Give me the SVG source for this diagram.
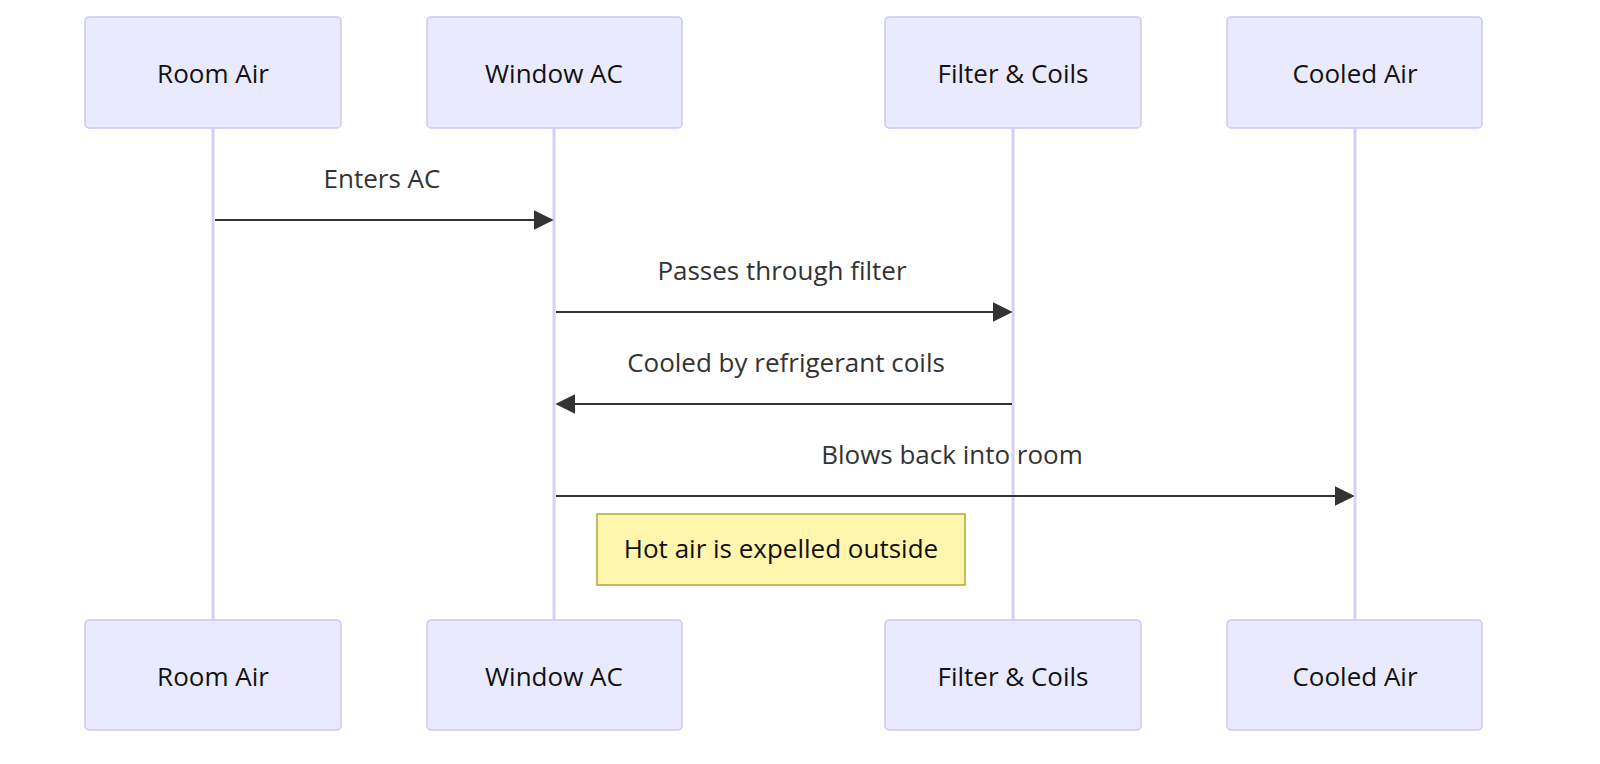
<svg xmlns="http://www.w3.org/2000/svg" width="1600" height="764" viewBox="0 0 1600 764">
<defs>
<style>
.actor{fill:#eaeaff;stroke:#d0c8f2;stroke-width:1.5}
.at{font-family:"Open Sans",sans-serif;font-size:26px;fill:#111;text-anchor:middle;dominant-baseline:central}
.life{stroke:#d8d0f2;stroke-width:3}
.msg{stroke:#333;stroke-width:2.2;fill:none;marker-end:url(#ah)}
.mt{font-family:"Open Sans",sans-serif;font-size:26px;fill:#333;text-anchor:middle}
</style>
<marker id="ah" viewBox="0 0 12 12" refX="11" refY="6" markerWidth="9" markerHeight="9" markerUnits="userSpaceOnUse" orient="auto"><path d="M0,0L12,6L0,12z" fill="#333"/></marker>
<marker id="ah2" viewBox="0 0 12 12" refX="11" refY="6" markerWidth="20" markerHeight="20" markerUnits="userSpaceOnUse" orient="auto"><path d="M0,0L12,6L0,12z" fill="#333"/></marker>
</defs>
<g id="lifelines">
<line class="life" x1="213" y1="128" x2="213" y2="620"/>
<line class="life" x1="554" y1="128" x2="554" y2="620"/>
<line class="life" x1="1013" y1="128" x2="1013" y2="620"/>
<line class="life" x1="1355" y1="128" x2="1355" y2="620"/>
</g>
<g id="roomair"><rect class="actor" x="85" y="17" width="256" height="111" rx="4"/><text class="at" x="213" y="73">Room Air</text><rect class="actor" x="85" y="620" width="256" height="110" rx="4"/><text class="at" x="213" y="676">Room Air</text></g>
<g id="windowac"><rect class="actor" x="427" y="17" width="255" height="111" rx="4"/><text class="at" x="554" y="73">Window AC</text><rect class="actor" x="427" y="620" width="255" height="110" rx="4"/><text class="at" x="554" y="676">Window AC</text></g>
<g id="filter"><rect class="actor" x="885" y="17" width="256" height="111" rx="4"/><text class="at" x="1013" y="73">Filter &amp; Coils</text><rect class="actor" x="885" y="620" width="256" height="110" rx="4"/><text class="at" x="1013" y="676">Filter &amp; Coils</text></g>
<g id="cooled"><rect class="actor" x="1227" y="17" width="255" height="111" rx="4"/><text class="at" x="1355" y="73">Cooled Air</text><rect class="actor" x="1227" y="620" width="255" height="110" rx="4"/><text class="at" x="1355" y="676">Cooled Air</text></g>
<g id="connectors">
<line class="msg" x1="215" y1="220" x2="552" y2="220" style="marker-end:url(#ah2)"/>
<text class="mt" x="382" y="188">Enters AC</text>
<line class="msg" x1="556" y1="312" x2="1011" y2="312" style="marker-end:url(#ah2)"/>
<text class="mt" x="782" y="280">Passes through filter</text>
<line class="msg" x1="1012" y1="404" x2="557" y2="404" style="marker-end:url(#ah2)"/>
<text class="mt" x="786" y="372">Cooled by refrigerant coils</text>
<line class="msg" x1="556" y1="496" x2="1353" y2="496" style="marker-end:url(#ah2)"/>
<text class="mt" x="952" y="464">Blows back into room</text>
</g>
<g id="note"><rect x="597" y="514" width="368" height="71" fill="#fff5ad" stroke="#aaaa33" stroke-width="1.5"/><text class="at" x="781" y="548">Hot air is expelled outside</text></g>
</svg>
